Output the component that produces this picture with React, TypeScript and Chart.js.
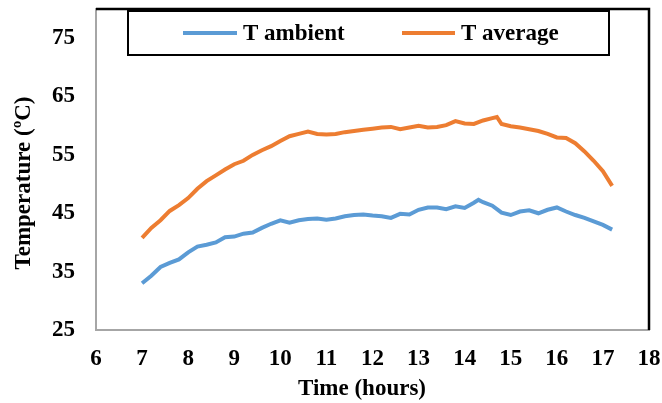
import { useEffect, useRef } from "react";
import { Chart, registerables } from "chart.js";

Chart.register(...registerables);

const ambientHours = [7.0, 7.2, 7.4, 7.6, 7.8, 8.0, 8.2, 8.4, 8.6, 8.8, 9.0, 9.2, 9.4, 9.6, 9.8, 10.0, 10.2, 10.4, 10.6, 10.8, 11.0, 11.2, 11.4, 11.6, 11.8, 12.0, 12.2, 12.4, 12.6, 12.8, 13.0, 13.2, 13.4, 13.6, 13.8, 14.0, 14.2, 14.3, 14.4, 14.6, 14.8, 15.0, 15.2, 15.4, 15.6, 15.8, 16.0, 16.2, 16.4, 16.6, 16.8, 17.0, 17.2];
const ambientTemps = [33.0, 34.3, 35.8, 36.5, 37.1, 38.3, 39.3, 39.6, 40.0, 40.9, 41.0, 41.5, 41.7, 42.5, 43.2, 43.8, 43.4, 43.8, 44.0, 44.1, 43.9, 44.1, 44.5, 44.7, 44.8, 44.6, 44.5, 44.2, 44.9, 44.8, 45.6, 46.0, 46.0, 45.7, 46.2, 45.9, 46.8, 47.3, 46.9, 46.3, 45.1, 44.7, 45.3, 45.5, 45.0, 45.6, 46.0, 45.3, 44.7, 44.2, 43.6, 43.0, 42.2];

const averageHours = [7.0, 7.2, 7.4, 7.6, 7.8, 8.0, 8.2, 8.4, 8.6, 8.8, 9.0, 9.2, 9.4, 9.6, 9.8, 10.0, 10.2, 10.4, 10.6, 10.8, 11.0, 11.2, 11.4, 11.6, 11.8, 12.0, 12.2, 12.4, 12.6, 12.8, 13.0, 13.2, 13.4, 13.6, 13.8, 14.0, 14.2, 14.4, 14.6, 14.7, 14.8, 15.0, 15.2, 15.4, 15.6, 15.8, 16.0, 16.2, 16.4, 16.6, 16.8, 17.0, 17.2];
const averageTemps = [40.8, 42.5, 43.8, 45.4, 46.4, 47.6, 49.2, 50.5, 51.5, 52.5, 53.4, 54.0, 55.0, 55.8, 56.5, 57.4, 58.2, 58.6, 59.0, 58.6, 58.5, 58.6, 58.9, 59.1, 59.3, 59.5, 59.7, 59.8, 59.4, 59.7, 60.0, 59.7, 59.8, 60.1, 60.8, 60.4, 60.3, 60.9, 61.3, 61.5, 60.3, 59.9, 59.7, 59.4, 59.1, 58.6, 58.0, 57.9, 57.0, 55.6, 54.0, 52.2, 49.7];

const xTickValues = [6, 7, 8, 9, 10, 11, 12, 13, 14, 15, 16, 17, 18];
const yTickValues = [25, 35, 45, 55, 65, 75];
const seriesLabels = ["T ambient", "T average"];
const seriesColors = ["#5B9BD5", "#ED7D31"];
const xTitle = "Time (hours)";
const yTitle = "Temperature (ºC)";

const FONT = "'Liberation Serif', 'Times New Roman', serif";

const decorPlugin = {
  id: "decor",
  afterDraw(chart: any) {
    const { ctx, chartArea } = chart;
    const { left, right, top, bottom } = chartArea;
    ctx.save();
    // top and right border
    ctx.strokeStyle = "#000";
    ctx.lineWidth = 2.5;
    ctx.beginPath();
    ctx.moveTo(left, top);
    ctx.lineTo(right, top);
    ctx.lineTo(right, bottom);
    ctx.stroke();

    // legend box
    const bx = 128, by = 11, bw = 481, bh = 44;
    ctx.fillStyle = "#fff";
    ctx.fillRect(bx, by, bw, bh);
    ctx.lineWidth = 2;
    ctx.strokeStyle = "#000";
    ctx.strokeRect(bx, by, bw, bh);

    const entries = [
      { x0: 183, x1: 237, tx: 243 },
      { x0: 402, x1: 455, tx: 461 },
    ];
    ctx.font = `bold 23px ${FONT}`;
    ctx.textBaseline = "middle";
    ctx.textAlign = "left";
    chart.data.datasets.forEach((ds: any, i: number) => {
      const e = entries[i];
      ctx.strokeStyle = ds.borderColor;
      ctx.lineWidth = 4;
      ctx.beginPath();
      ctx.moveTo(e.x0, 33);
      ctx.lineTo(e.x1, 33);
      ctx.stroke();
      ctx.fillStyle = "#000";
      ctx.fillText(ds.label, e.tx, 34);
    });

    // axis titles
    ctx.fillStyle = "#000";
    ctx.textAlign = "center";
    ctx.textBaseline = "middle";
    ctx.fillText(xTitle, 362, 389);
    ctx.translate(24, 183);
    ctx.rotate(-Math.PI / 2);
    ctx.fillText(yTitle, 0, 0);
    ctx.restore();
  },
};

const zeroPad = (scale: any) => {
  scale.paddingTop = 0;
  scale.paddingBottom = 0;
  scale.paddingLeft = 0;
  scale.paddingRight = 0;
};

export default function App() {
  const canvasRef = useRef<HTMLCanvasElement | null>(null);

  useEffect(() => {
    if (!canvasRef.current) return;
    const tickFont = { family: FONT, size: 23, weight: "bold" as const };
    const chart = new Chart(canvasRef.current, {
      type: "line",
      data: {
        datasets: [
          {
            label: seriesLabels[0],
            data: ambientHours.map((h, i) => ({ x: h, y: ambientTemps[i] })),
            borderColor: seriesColors[0],
            backgroundColor: seriesColors[0],
            borderWidth: 4,
            pointRadius: 0,
            tension: 0,
          },
          {
            label: seriesLabels[1],
            data: averageHours.map((h, i) => ({ x: h, y: averageTemps[i] })),
            borderColor: seriesColors[1],
            backgroundColor: seriesColors[1],
            borderWidth: 4,
            pointRadius: 0,
            tension: 0,
          },
        ],
      },
      options: {
        responsive: false,
        animation: false,
        events: [],
        layout: { padding: { top: 9, right: 13, left: 0, bottom: 0 } },
        plugins: {
          legend: { display: false },
          tooltip: { enabled: false },
        },
        scales: {
          x: {
            type: "linear",
            min: 6,
            max: 18,
            grid: { display: false, drawTicks: false },
            border: { display: true, color: "#a6a6a6", width: 2 },
            ticks: { color: "#000", font: tickFont, padding: 15, autoSkip: false, maxRotation: 0 },
            afterBuildTicks: (scale: any) => {
              scale.ticks = xTickValues.map((v) => ({ value: v }));
            },
            afterFit: (scale: any) => {
              scale.height = 73;
              zeroPad(scale);
            },
          },
          y: {
            type: "linear",
            min: 25,
            max: 80,
            grid: { display: false, drawTicks: false },
            border: { display: true, color: "#a6a6a6", width: 2 },
            ticks: { color: "#000", font: tickFont, padding: 21, autoSkip: false },
            afterBuildTicks: (scale: any) => {
              scale.ticks = yTickValues.map((v) => ({ value: v }));
            },
            afterFit: (scale: any) => {
              scale.width = 96;
              zeroPad(scale);
            },
          },
        },
      },
      plugins: [decorPlugin],
    });
    return () => chart.destroy();
  }, []);

  return (
    <div style={{ position: "absolute", left: 0, top: 0, width: 662, height: 403, background: "#fff" }}>
      <canvas ref={canvasRef} width={662} height={403} style={{ width: 662, height: 403 }} />
    </div>
  );
}
